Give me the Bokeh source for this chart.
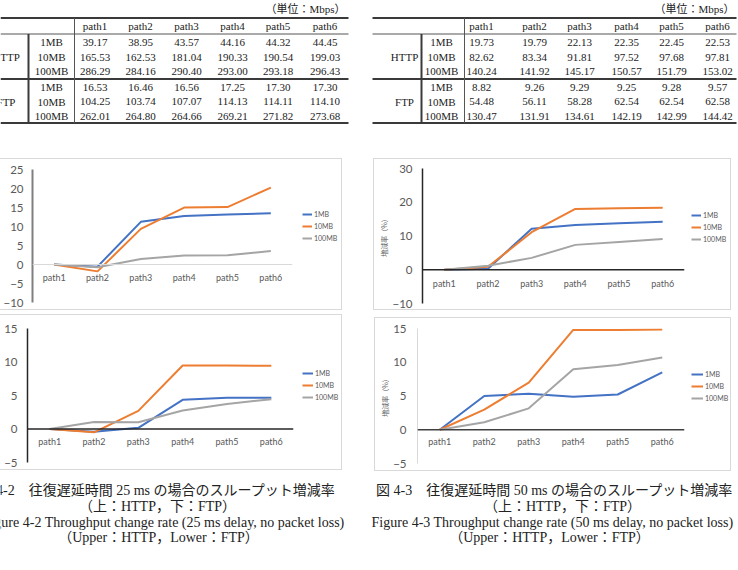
from bokeh.plotting import figure
from bokeh.models import (Range1d, FactorRange, FixedTicker, Span, Legend,
                          LegendItem, Spacer)
from bokeh.layouts import row, column
from bokeh.core.properties import value
from bokeh.embed import file_html
from bokeh.resources import INLINE

# ---------------------------------------------------------------- data
paths = ["path1", "path2", "path3", "path4", "path5", "path6"]
sizes = ["1MB", "10MB", "100MB"]
protocols = ["HTTP", "FTP"]
unit_text = "（単位：Mbps）"

# throughput, 25 ms round-trip delay (Mbps)
http25_1mb = [39.17, 38.95, 43.57, 44.16, 44.32, 44.45]
http25_10mb = [165.53, 162.53, 181.04, 190.33, 190.54, 199.03]
http25_100mb = [286.29, 284.16, 290.40, 293.00, 293.18, 296.43]
ftp25_1mb = [16.53, 16.46, 16.56, 17.25, 17.30, 17.30]
ftp25_10mb = [104.25, 103.74, 107.07, 114.13, 114.11, 114.10]
ftp25_100mb = [262.01, 264.80, 264.66, 269.21, 271.82, 273.68]

# throughput, 50 ms round-trip delay (Mbps)
http50_1mb = [19.73, 19.79, 22.13, 22.35, 22.45, 22.53]
http50_10mb = [82.62, 83.34, 91.81, 97.52, 97.68, 97.81]
http50_100mb = [140.24, 141.92, 145.17, 150.57, 151.79, 153.02]
ftp50_1mb = [8.82, 9.26, 9.29, 9.25, 9.28, 9.57]
ftp50_10mb = [54.48, 56.11, 58.28, 62.54, 62.54, 62.58]
ftp50_100mb = [130.47, 131.91, 134.61, 142.19, 142.99, 144.42]

# throughput change rate relative to path1 (%)
rate_http25_1mb = [0.00, -0.56, 11.23, 12.74, 13.15, 13.48]
rate_http25_10mb = [0.00, -1.81, 9.37, 14.98, 15.11, 20.24]
rate_http25_100mb = [0.00, -0.74, 1.44, 2.34, 2.41, 3.54]
rate_ftp25_1mb = [0.00, -0.42, 0.18, 4.36, 4.66, 4.66]
rate_ftp25_10mb = [0.00, -0.49, 2.71, 9.48, 9.46, 9.45]
rate_ftp25_100mb = [0.00, 1.06, 1.01, 2.75, 3.74, 4.45]
rate_http50_1mb = [0.00, 0.30, 12.16, 13.28, 13.79, 14.19]
rate_http50_10mb = [0.00, 0.87, 11.12, 18.03, 18.23, 18.39]
rate_http50_100mb = [0.00, 1.20, 3.52, 7.37, 8.24, 9.11]
rate_ftp50_1mb = [0.00, 4.99, 5.33, 4.88, 5.22, 8.50]
rate_ftp50_10mb = [0.00, 2.99, 6.98, 14.79, 14.79, 14.87]
rate_ftp50_100mb = [0.00, 1.10, 3.17, 8.98, 9.60, 10.69]

ticks_http25 = [-10, -5, 0, 5, 10, 15, 20, 25]
ticks_http50 = [-10, 0, 10, 20, 30]
ticks_ftp = [-5, 0, 5, 10, 15]
y_label = "増減率（%）"

caption_25 = ["図 4-2　往復遅延時間 25 ms の場合のスループット増減率",
              "（上：HTTP，下：FTP）",
              "Figure 4-2 Throughput change rate (25 ms delay, no packet loss)",
              "（Upper：HTTP，Lower：FTP）"]
caption_50 = ["図 4-3　往復遅延時間 50 ms の場合のスループット増減率",
              "（上：HTTP，下：FTP）",
              "Figure 4-3 Throughput change rate (50 ms delay, no packet loss)",
              "（Upper：HTTP，Lower：FTP）"]

# ---------------------------------------------------------------- styling
SERIF = "'Liberation Serif', 'Noto Sans CJK JP'"
SANS = "Lato"
COLORS = ["#4472C4", "#ED7D31", "#A5A5A5"]
TEXT = "#222222"
LABEL = "#595959"
EDGE = "1px solid #d9d9d9"
PANEL_W = 369


def edge_styles(edges):
    return {"border-" + side: EDGE for side in edges}


def blank(width, height, edges=()):
    p = figure(width=width, height=height, x_range=Range1d(0, width),
               y_range=Range1d(height, 0), x_axis_location=None,
               y_axis_location=None, output_backend="svg",
               toolbar_location=None, min_border=0,
               styles=edge_styles(edges))
    p.xgrid.visible = False
    p.ygrid.visible = False
    p.outline_line_color = None
    return p


def table(http_rows, ftp_rows, col_x, size_x, group_x, x0, x1,
          v_thick, v_thin, unit_x):
    p = blank(PANEL_W, 150)
    header_y = 25.5
    group_rows = [[41.5, 56.5, 70.5], [86.5, 101.0, 115.5]]
    kw = dict(text_align="center", text_baseline="middle",
              text_font=value(SERIF), text_font_size="11px", text_color=TEXT)

    p.text(x=[unit_x], y=[8], text=[unit_text], text_align="right",
           text_baseline="middle", text_font=value(SERIF),
           text_font_size="11px", text_color=TEXT)
    p.text(x=col_x, y=[header_y] * len(paths), text=paths, **kw)

    for rows_, ys, proto in zip([http_rows, ftp_rows], group_rows, protocols):
        p.text(x=[group_x], y=[ys[1]], text=[proto], **kw)
        p.text(x=[size_x] * 3, y=ys, text=sizes, **kw)
        for vals, y in zip(rows_, ys):
            p.text(x=col_x, y=[y] * len(vals),
                   text=["%.2f" % v for v in vals], **kw)

    # rules of the table
    p.segment(x0=[x0, x0, x0], y0=[17.5, 78.5, 122.5],
              x1=[x1, x1, x1], y1=[17.5, 78.5, 122.5],
              line_color="#3a3a3a", line_width=2)
    p.segment(x0=[x0], y0=[33.5], x1=[x1], y1=[33.5],
              line_color="#555555", line_width=1)
    p.segment(x0=[v_thick], y0=[33.5], x1=[v_thick], y1=[122.5],
              line_color="#3a3a3a", line_width=2)
    p.segment(x0=[v_thin], y0=[17.5], x1=[v_thin], y1=[122.5],
              line_color="#555555", line_width=1)
    return p


def chart(size, frame, legend_w, y_rng, ticks, series, axis_color,
          axis_width, zero_color, zero_width, tick_standoff, legend_loc,
          glyph_w, path_off, left_edge, ylabel=None, ylabel_standoff=0):
    w, h = size
    fl, fr, ft, fb = frame
    edges = ["top", "bottom"] + (["left"] if left_edge else [])
    p = figure(width=w, height=h, x_range=FactorRange(*paths),
               y_range=Range1d(*y_rng), x_axis_location=None,
               output_backend="svg", toolbar_location=None,
               min_border_left=fl, min_border_right=w - fr,
               min_border_top=ft, min_border_bottom=h - fb,
               styles=edge_styles(edges))
    p.xgrid.visible = False
    p.ygrid.visible = False
    p.outline_line_color = None

    ax = p.yaxis[0]
    ax.ticker = FixedTicker(ticks=ticks)
    ax.major_tick_line_color = None
    ax.minor_tick_line_color = None
    ax.major_tick_out = 0
    ax.major_tick_in = 0
    ax.axis_line_color = axis_color
    ax.axis_line_width = axis_width
    ax.major_label_standoff = tick_standoff
    ax.major_label_text_font = SANS
    ax.major_label_text_font_size = "11.5px"
    ax.major_label_text_color = LABEL
    if ylabel:
        ax.axis_label = ylabel
        ax.axis_label_text_font = "Noto Sans CJK JP"
        ax.axis_label_text_font_size = "7px"
        ax.axis_label_text_font_style = "normal"
        ax.axis_label_text_color = LABEL
        ax.axis_label_standoff = ylabel_standoff

    p.add_layout(Span(location=0, dimension="width", line_color=zero_color,
                      line_width=zero_width))

    p.text(x=paths, y=[0] * len(paths), text=paths, y_offset=path_off,
           text_align="center", text_baseline="middle",
           text_font=value(SANS), text_font_size="9px", text_color=LABEL)

    for vals, color in zip(series, COLORS):
        p.line(paths, vals, line_color=color, line_width=2)

    # legend panel to the right of the plot area; its key lines sit
    # outside the visible range so only the legend swatches show
    lg = blank(legend_w, h, edges=["top", "right", "bottom"])
    keys = [lg.line(x=[-20, -10], y=[-20, -20], line_color=c, line_width=2)
            for c in COLORS]
    legend = Legend(items=[LegendItem(label=s, renderers=[k])
                           for s, k in zip(sizes, keys)],
                    location=legend_loc, padding=0, margin=0,
                    spacing=0, glyph_width=glyph_w, glyph_height=12,
                    label_height=12, label_standoff=2,
                    label_text_font=SANS, label_text_font_size="7px",
                    label_text_color=LABEL, border_line_color=None,
                    background_fill_alpha=0)
    lg.add_layout(legend)
    return row(p, lg)


def caption(lines, xs, aligns):
    p = blank(PANEL_W, 96)
    for line, x, al, y in zip(lines, xs, aligns, [16, 32, 48, 63]):
        p.text(x=[x], y=[y], text=[line], text_align=al,
               text_baseline="middle", text_font=value(SERIF),
               text_font_size="14px", text_color=TEXT)
    return p


# ---------------------------------------------------------------- panels
table_25 = table([http25_1mb, http25_10mb, http25_100mb],
                 [ftp25_1mb, ftp25_10mb, ftp25_100mb],
                 col_x=[94.5, 140, 186, 232, 277.5, 324.5], size_x=51,
                 group_x=5.5, x0=0, x1=348, v_thick=28, v_thin=74,
                 unit_x=345)
table_50 = table([http50_1mb, http50_10mb, http50_100mb],
                 [ftp50_1mb, ftp50_10mb, ftp50_100mb],
                 col_x=[112, 165, 210, 257, 302, 348], size_x=72,
                 group_x=35, x0=3, x1=367, v_thick=52, v_thin=95,
                 unit_x=365)

http_25 = chart((296, 152), (31, 292, 10, 143), 46, (-10, 25), ticks_http25,
                [rate_http25_1mb, rate_http25_10mb, rate_http25_100mb],
                axis_color="#7f7f7f", axis_width=2,
                zero_color="#d9d9d9", zero_width=1, tick_standoff=9,
                legend_loc=(6, 58), glyph_w=10, path_off=13,
                left_edge=False)
http_50 = chart((314, 152), (48, 310, 9, 144), 44, (-10, 30), ticks_http50,
                [rate_http50_1mb, rate_http50_10mb, rate_http50_100mb],
                axis_color="#262626", axis_width=1.5,
                zero_color="#262626", zero_width=1.5, tick_standoff=10,
                legend_loc=(4, 58), glyph_w=10, path_off=14,
                left_edge=True, ylabel=y_label, ylabel_standoff=0)
ftp_25 = chart((297, 156), (27, 293, 13, 147), 45, (-5, 15), ticks_ftp,
               [rate_ftp25_1mb, rate_ftp25_10mb, rate_ftp25_100mb],
               axis_color="#262626", axis_width=1.5,
               zero_color="#262626", zero_width=1.5, tick_standoff=10,
               legend_loc=(5, 59), glyph_w=11, path_off=12,
               left_edge=False)
ftp_50 = chart((313, 154), (42, 309, 10, 145), 44, (-5, 15), ticks_ftp,
               [rate_ftp50_1mb, rate_ftp50_10mb, rate_ftp50_100mb],
               axis_color="#d9d9d9", axis_width=1,
               zero_color="#404040", zero_width=1.5, tick_standoff=11,
               legend_loc=(4, 59), glyph_w=12, path_off=12,
               left_edge=True, ylabel=y_label, ylabel_standoff=0)

cap_25 = caption(caption_25, [335, 157, 344, 158],
                 ["right", "center", "right", "center"])
cap_50 = caption(caption_50, [185, 193, 183, 180],
                 ["center", "center", "center", "center"])

# chart slots: spacers place each bordered chart inside a 369-wide cell
slot_http25 = column(Spacer(width=369, height=8),
                     row(http_25, Spacer(width=26, height=154)),
                     Spacer(width=369, height=2))
slot_http50 = row(Spacer(width=4, height=164),
                  column(Spacer(width=360, height=8), http_50,
                         Spacer(width=360, height=2)),
                  Spacer(width=5, height=164))
slot_ftp25 = column(row(ftp_25, Spacer(width=26, height=158)),
                    Spacer(width=369, height=2))
slot_ftp50 = row(Spacer(width=5, height=160),
                 column(Spacer(width=359, height=3), ftp_50,
                        Spacer(width=359, height=1)),
                 Spacer(width=5, height=160))

page = column(row(table_25, table_50),
              row(slot_http25, slot_http50),
              row(slot_ftp25, slot_ftp50),
              row(cap_25, cap_50))

open("out.html", "w").write(file_html(page, INLINE, title="Throughput change rate"))
